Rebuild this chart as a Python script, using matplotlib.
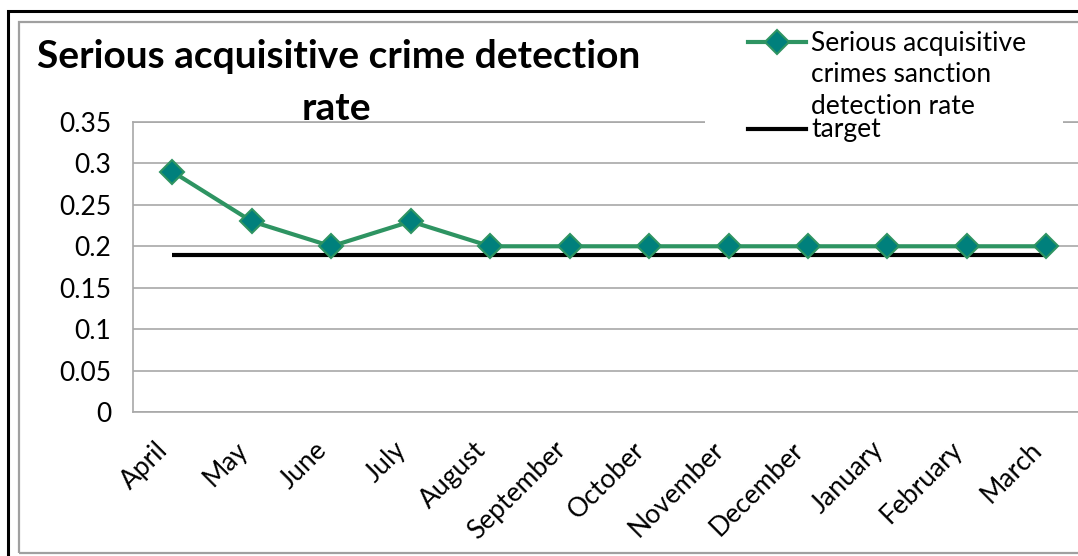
import matplotlib.pyplot as plt
from matplotlib.lines import Line2D
from matplotlib.patches import Rectangle
from matplotlib.transforms import ScaledTranslation

plt.rcParams['font.family'] = ['Lato', 'DejaVu Sans']

# monthly values
months = ['April', 'May', 'June', 'July', 'August', 'September', 'October',
          'November', 'December', 'January', 'February', 'March']
detection_rate = [0.29, 0.23, 0.20, 0.23, 0.20, 0.20, 0.20, 0.20, 0.20, 0.20, 0.20, 0.20]
target = [0.19] * 12
yticks = [0, 0.05, 0.1, 0.15, 0.2, 0.25, 0.3, 0.35]
ytick_labels = ['0', '0.05', '0.1', '0.15', '0.2', '0.25', '0.3', '0.35']

W, H = 1078, 556
fig = plt.figure(figsize=(W / 100, H / 100), dpi=100)


def fx(px):
    return px / W


def fy(py):
    return 1 - py / H


# chart frame: black outer box, gray inner box
fig.add_artist(Rectangle((fx(7.5), fy(600)), fx(1200), fy(10.5) - fy(600), transform=fig.transFigure,
                         fill=False, edgecolor='black', linewidth=2.2, zorder=0))
fig.add_artist(Rectangle((fx(19), fy(552.5)), fx(1200), fy(21.5) - fy(552.5), transform=fig.transFigure,
                         fill=False, edgecolor='#a0a0a0', linewidth=1.6, zorder=0))

ax = fig.add_axes([fx(132.7), fy(412), fx(1086 - 132.7), fy(122) - fy(412)])
x = range(len(months))

green = '#2e9462'
teal = '#00807c'
ax.plot(x, target, color='black', linewidth=3, solid_capstyle='butt', zorder=3)
ax.plot(x, detection_rate, color=green, linewidth=3, marker='D', markersize=12.5,
        markerfacecolor=teal, markeredgecolor=green, markeredgewidth=1.5, zorder=4)

ax.set_xlim(-0.5, len(months) - 0.5)
ax.set_ylim(0, 0.35)
ax.set_yticks(yticks)
ax.set_yticklabels(ytick_labels)
ax.set_xticks(list(x))
ax.set_xticklabels(months, rotation=45, ha='right', va='top', rotation_mode='anchor')
ax.tick_params(axis='both', length=0, labelsize=19)
ax.tick_params(axis='y', pad=15.5)
ax.tick_params(axis='x', pad=18)
# month labels sit a little left of their tick
shift = ScaledTranslation(-17 / 100, 0, fig.dpi_scale_trans)
for lbl in ax.get_xticklabels():
    lbl.set_transform(lbl.get_transform() + shift)
ax.grid(axis='y', color='#a8a8a8', linewidth=1.2)
ax.set_axisbelow(True)
for side in ['left', 'top', 'bottom', 'right']:
    ax.spines[side].set_color('#a8a8a8')
    ax.spines[side].set_linewidth(1.2)

# title
fig.text(fx(339), fy(57), 'Serious acquisitive crime detection', ha='center', va='center',
         fontsize=28, fontweight='bold')
fig.text(fx(336), fy(109), 'rate', ha='center', va='center', fontsize=28, fontweight='bold')

# legend box
fig.add_artist(Rectangle((fx(705), fy(150)), fx(1063 - 705), fy(28) - fy(150), transform=fig.transFigure,
                         facecolor='white', edgecolor='none', zorder=5))
fig.add_artist(Line2D([fx(748), fx(806)], [fy(42), fy(42)], transform=fig.transFigure,
                      color=green, linewidth=3, zorder=6))
fig.add_artist(Line2D([fx(777)], [fy(42)], transform=fig.transFigure, marker='D', markersize=12.5,
                      markerfacecolor=teal, markeredgecolor=green, markeredgewidth=1.5, zorder=7))
fig.add_artist(Line2D([fx(748), fx(806)], [fy(129), fy(129)], transform=fig.transFigure,
                      color='black', linewidth=3, zorder=6))
for i, line in enumerate(['Serious acquisitive', 'crimes sanction', 'detection rate']):
    fig.text(fx(811), fy(43 + 31.5 * i), line, ha='left', va='center', fontsize=19, zorder=7)
fig.text(fx(811), fy(130), 'target', ha='left', va='center', fontsize=19, zorder=7)

fig.savefig('out.png', dpi=100)
